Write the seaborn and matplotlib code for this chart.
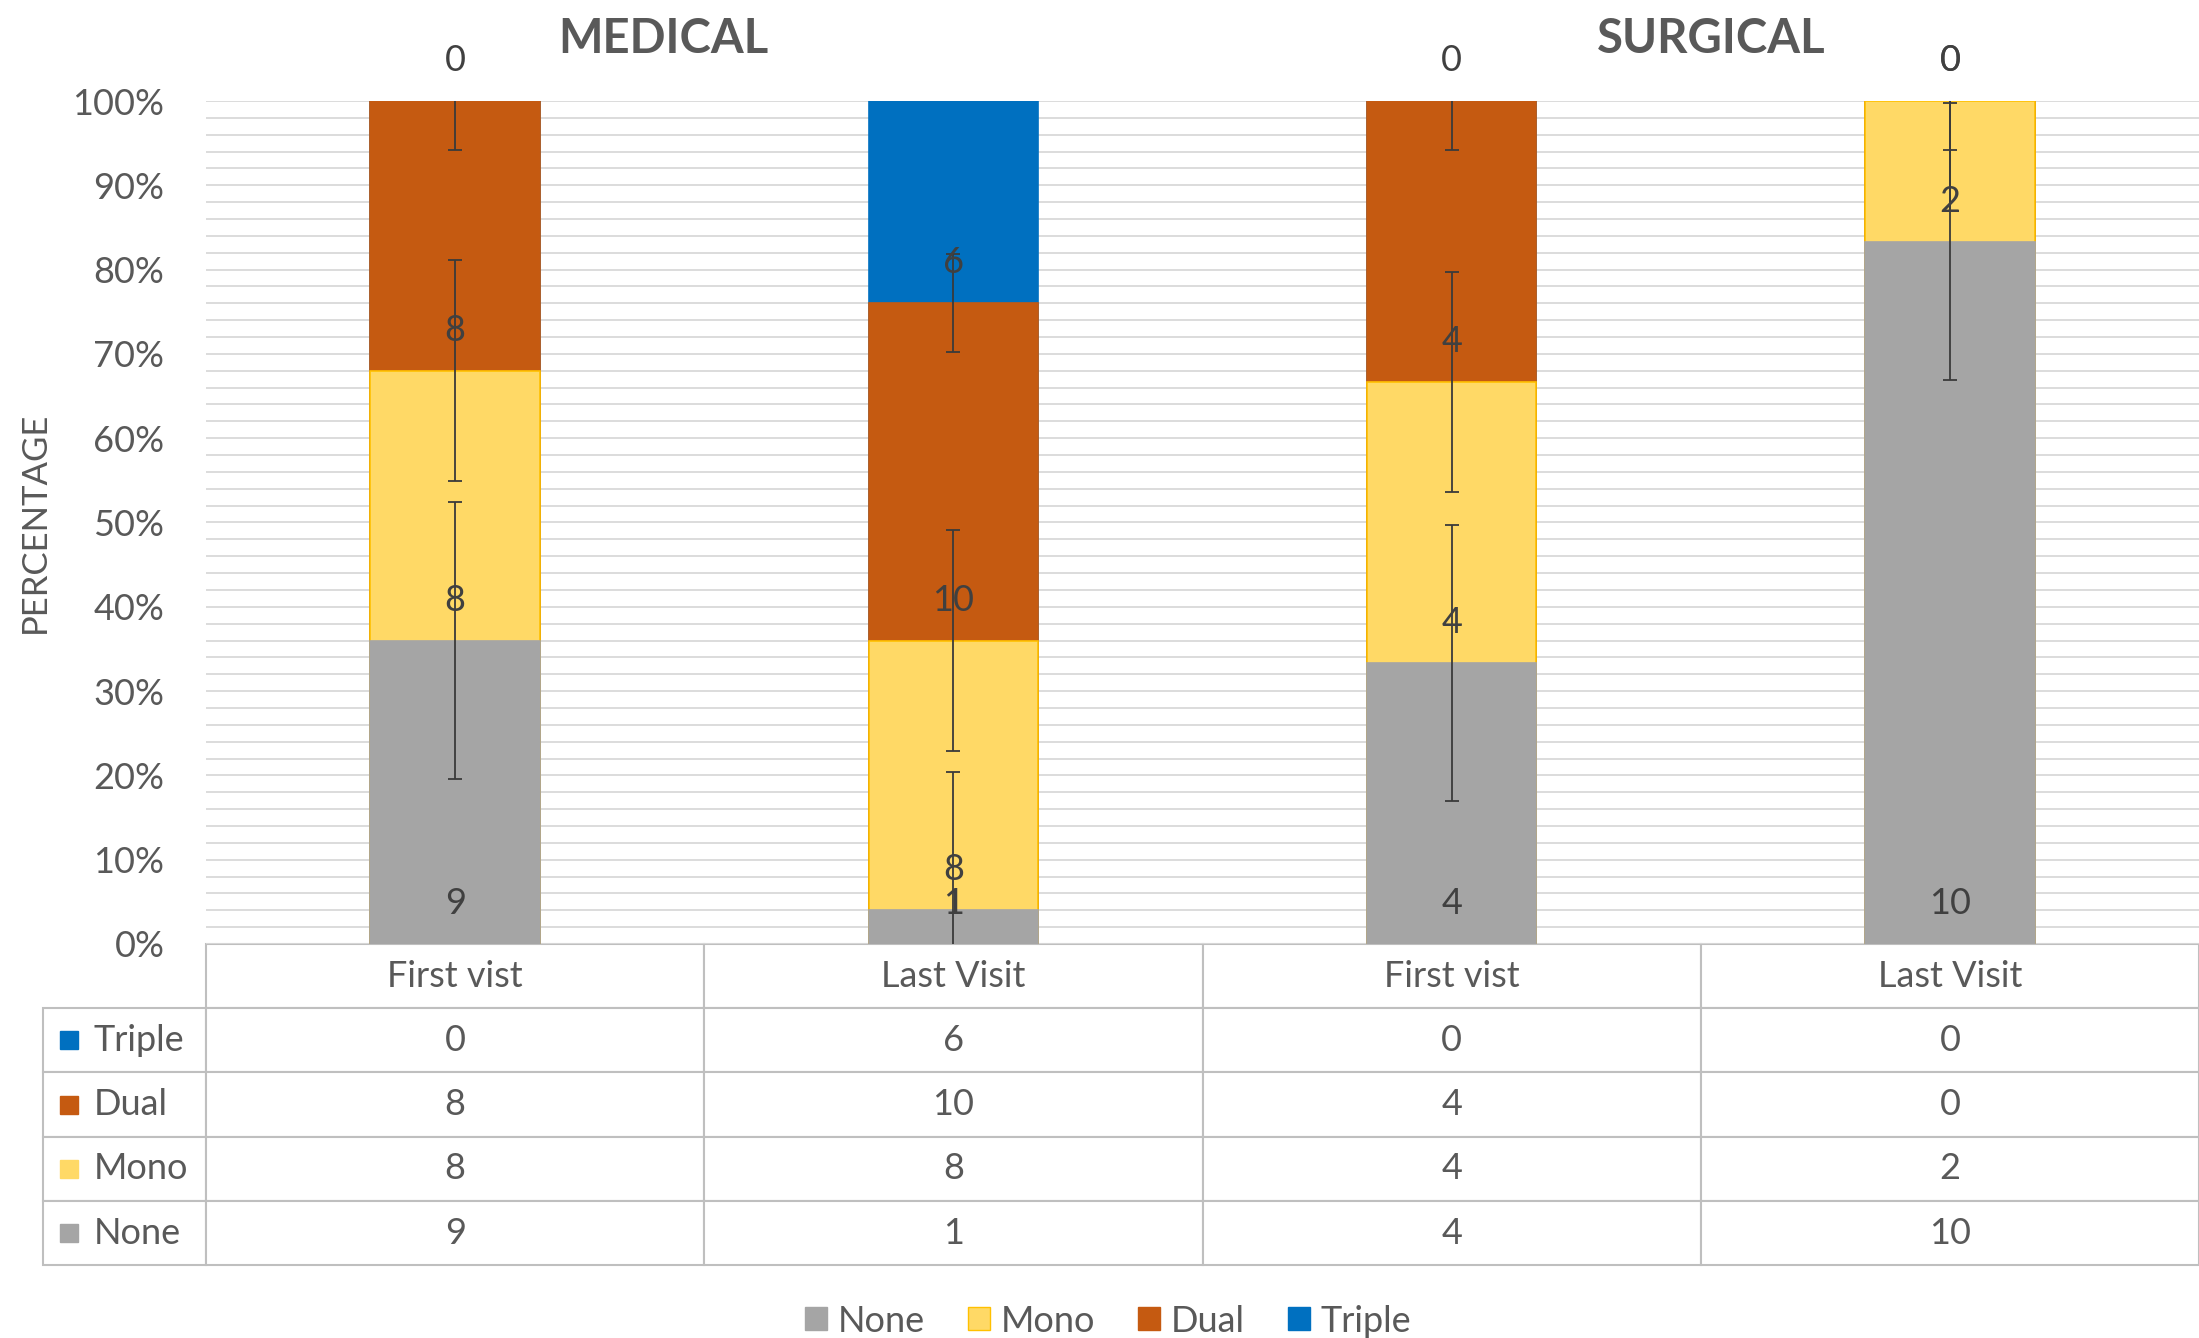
import pandas as pd
import seaborn as sns
import matplotlib.pyplot as plt
from matplotlib.patches import Patch

# chart data
slots = ['Medical first', 'Medical last', 'Surgical first', 'Surgical last']
visits = ['First vist', 'Last Visit', 'First vist', 'Last Visit']
none_n = [9, 1, 4, 10]
mono_n = [8, 8, 4, 2]
dual_n = [8, 10, 4, 0]
triple_n = [0, 6, 0, 0]

# error bar half lengths in percentage points
none_err = [16.4, 16.4, 16.4, 16.4]
mono_err = [13.1, 13.1, 13.1, 13.1]
dual_err = [5.8, 5.8, 5.8, 5.8]

series = ['None', 'Mono', 'Dual', 'Triple']
colors = {'None': '#A5A5A5', 'Mono': '#FFD966', 'Dual': '#C55A11', 'Triple': '#0070C0'}
grey = '#595959'

counts = pd.DataFrame({'None': none_n, 'Mono': mono_n, 'Dual': dual_n, 'Triple': triple_n}, index=slots)
pct = counts.div(counts.sum(axis=1), axis=0) * 100
top = pct.cumsum(axis=1)
base = top - pct

sns.set_theme(style='white')
plt.rcParams['font.family'] = ['Lato', 'DejaVu Sans']

fig = plt.figure(figsize=(21.99, 13.38), dpi=100)
ax = fig.add_axes([0.0937, 0.2945, 0.9063, 0.63])

# stacked bars: draw the cumulative heights from the top series down
for s in reversed(series):
    edge = '#FFC000' if s == 'Mono' else colors[s]
    sns.barplot(x=slots, y=top[s].values, color=colors[s], saturation=1, width=0.34,
                edgecolor=edge, linewidth=1.2, ax=ax, zorder=2)

for s, err in [('None', none_err), ('Mono', mono_err), ('Dual', dual_err)]:
    ax.errorbar(range(len(slots)), top[s].values, yerr=err, fmt='none', ecolor='#3a3a3a',
                elinewidth=1.3, capsize=5, capthick=1.3, zorder=4)

# data labels sit just above the base of each segment
for s, vals in zip(series, [none_n, mono_n, dual_n, triple_n]):
    for i, v in enumerate(vals):
        ax.text(i, base[s].iloc[i] + 4.8, str(v), ha='center', va='center',
                fontsize=26, color='#404040', zorder=5)

ax.set_xlim(-0.5, len(slots) - 0.5)
ax.set_ylim(0, 100)
ax.set_yticks(range(0, 101, 10))
ax.set_yticklabels([f'{v}%' for v in range(0, 101, 10)])
ax.set_yticks(range(0, 101, 2), minor=True)
ax.grid(axis='y', which='both', color='#D9D9D9', linewidth=1.3)
ax.set_axisbelow(True)
ax.tick_params(axis='y', which='both', length=0, pad=30, labelsize=26, labelcolor=grey)
ax.set_xticks([])
ax.set_xlabel('')
ax.set_ylabel('')
for sp in ax.spines.values():
    sp.set_visible(False)

# data table under the bars
rows = [('Triple', triple_n), ('Dual', dual_n), ('Mono', mono_n), ('None', none_n)]
cell_text = [[name] + [str(v) for v in vals] for name, vals in rows]
tbl = ax.table(cellText=cell_text, colLabels=[''] + visits, cellLoc='center',
               colWidths=[0.0818] + [0.25] * 4, bbox=[-0.0818, -0.381, 1.0818, 0.381])
tbl.auto_set_font_size(False)
tbl.set_fontsize(26)
for (r, c), cell in tbl.get_celld().items():
    cell.set_edgecolor('#BFBFBF')
    cell.set_linewidth(1.5)
    cell.get_text().set_color(grey)
    if r == 0 and c == 0:
        cell.visible_edges = ''
    elif c == 0:
        cell._loc = 'left'
        cell.PAD = 0.31
        cell.get_text().set_horizontalalignment('left')

row_h = 0.381 / 5
for k, (name, _) in enumerate(rows):
    ax.plot(-0.0687, -(k + 1.5) * row_h, marker='s', ms=13, color=colors[name],
            transform=ax.transAxes, clip_on=False)

fig.text(35 / 2199, 0.61, 'PERCENTAGE', rotation=90, ha='center', va='center',
         fontsize=25, color=grey)
fig.text(0.3015, 0.971, 'MEDICAL', ha='center', va='center', fontsize=34,
         fontweight='bold', color=grey)
fig.text(0.778, 0.971, 'SURGICAL', ha='center', va='center', fontsize=34,
         fontweight='bold', color=grey)

handles = [Patch(facecolor=colors[s], edgecolor='#FFC000' if s == 'Mono' else colors[s], label=s)
           for s in series]
fig.legend(handles=handles, loc='lower center', bbox_to_anchor=(0.504, -0.024), ncol=4,
           frameon=False, fontsize=26, handlelength=0.6, handleheight=0.6,
           handletextpad=0.3, columnspacing=1.2, labelcolor=grey)

fig.savefig('out.png', dpi=100)
